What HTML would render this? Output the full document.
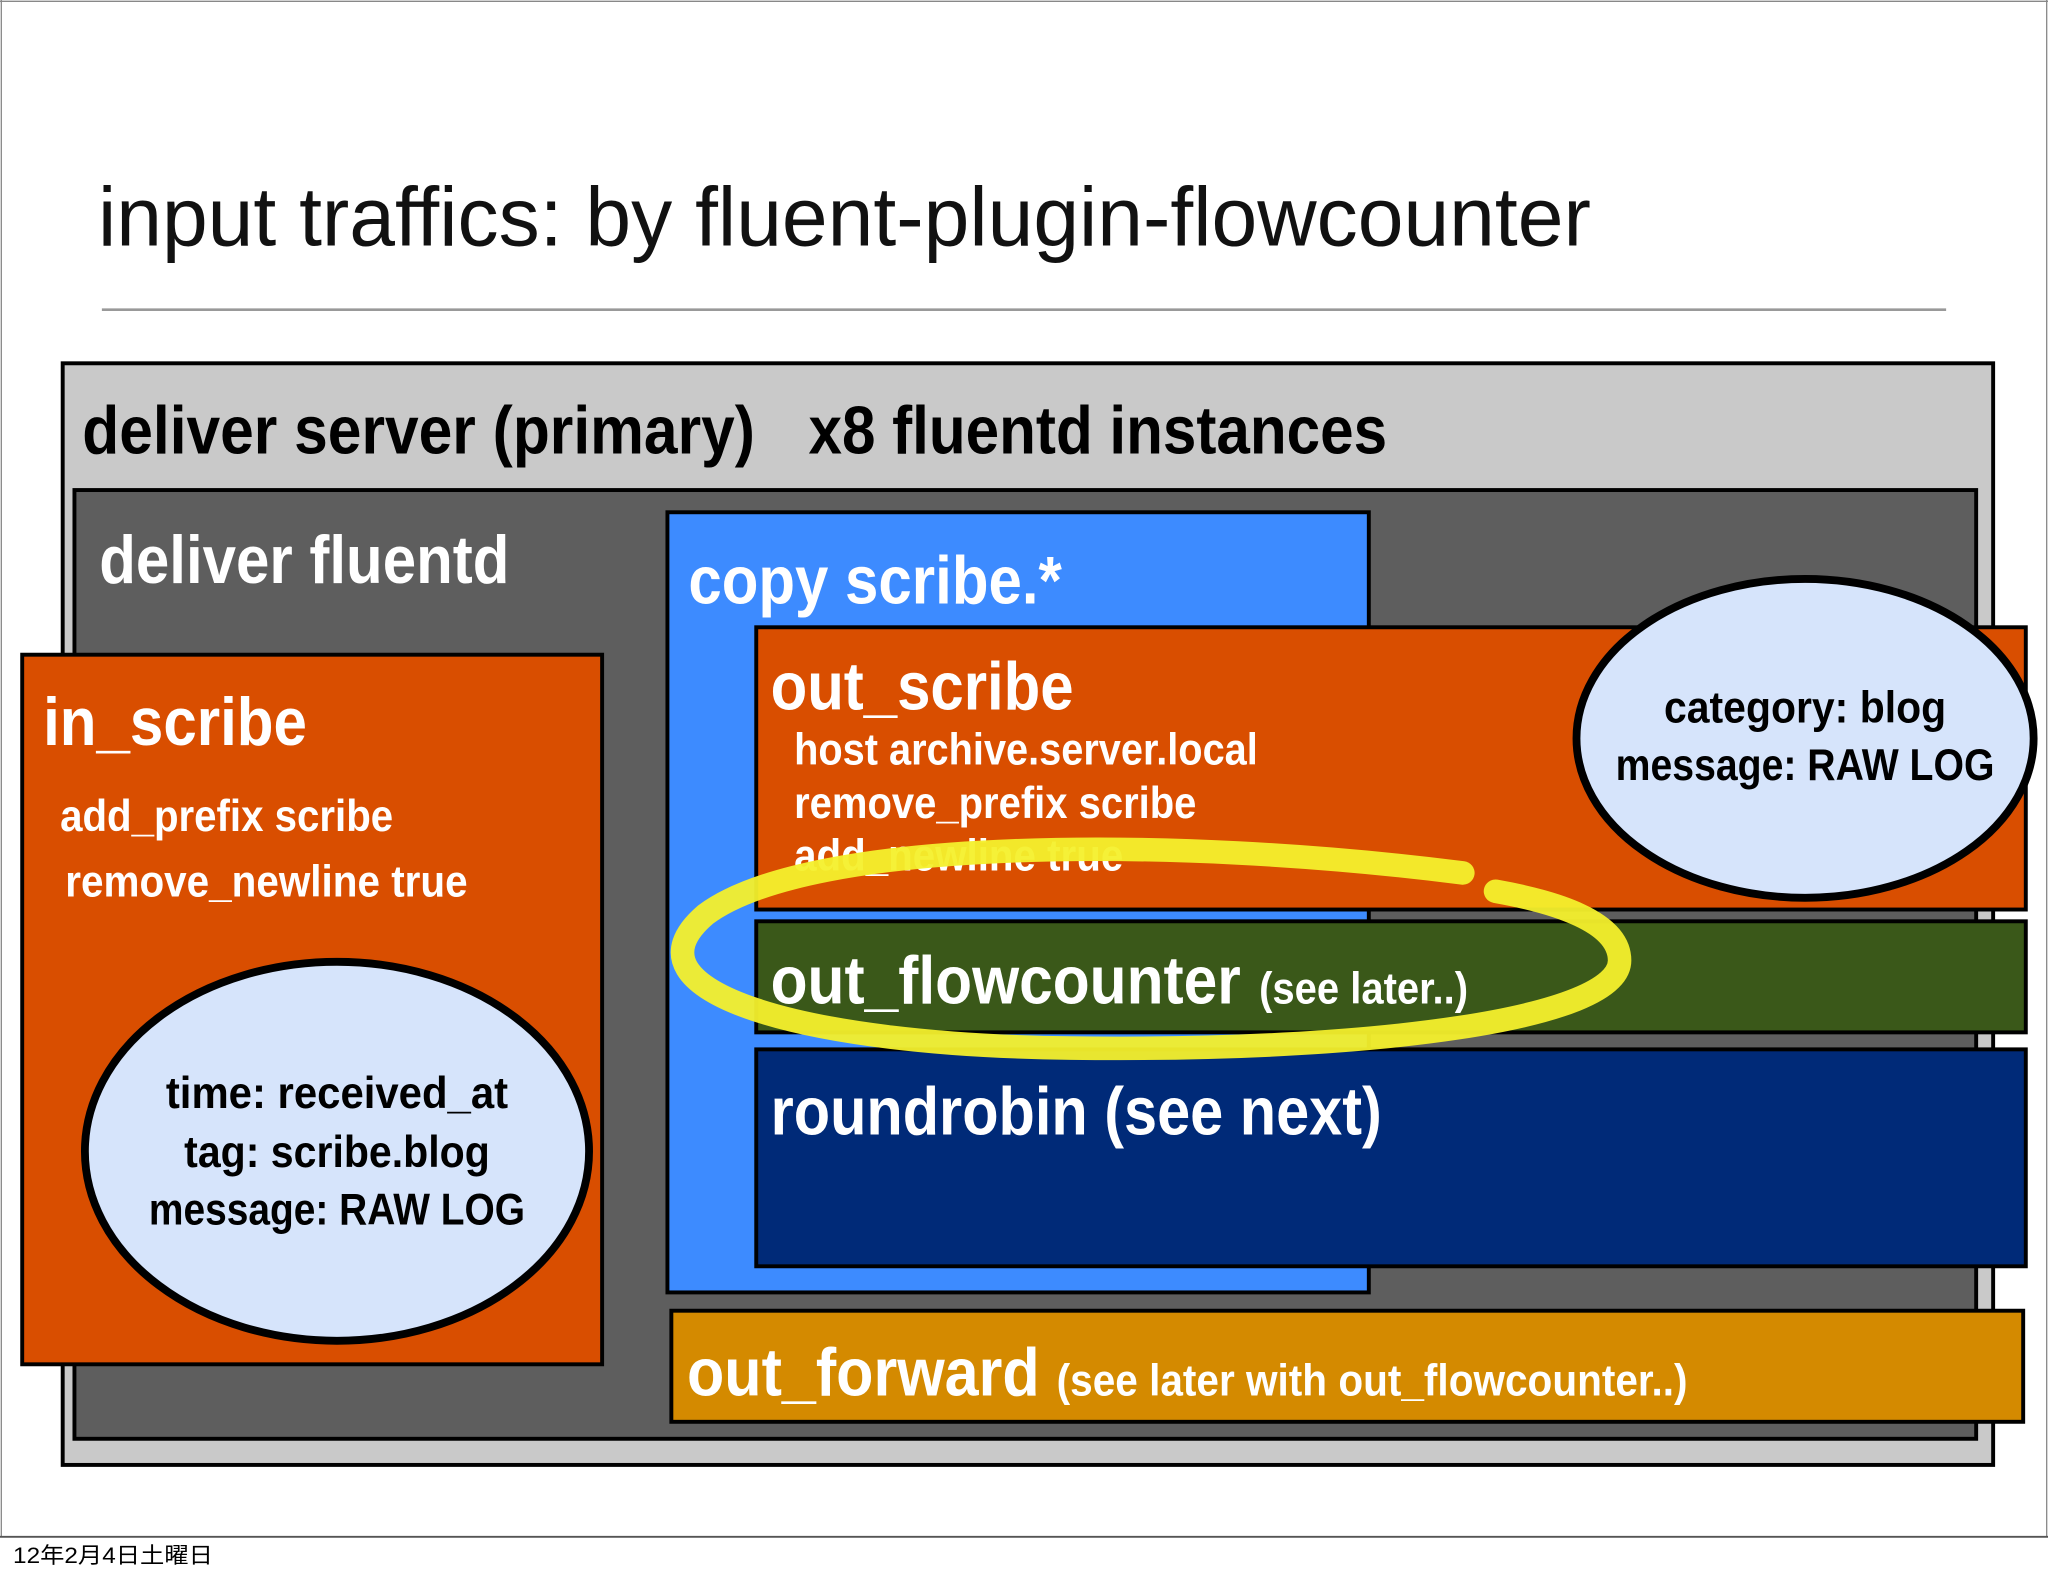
<!DOCTYPE html>
<html><head><meta charset="utf-8"><style>
html,body{margin:0;padding:0;background:#fff;}
svg{display:block;}
.c{font-family:"Liberation Sans Narrow","Liberation Sans",sans-serif;font-weight:bold;}
</style></head><body>
<svg width="2048" height="1576" viewBox="0 0 1568 1206" preserveAspectRatio="none" xmlns="http://www.w3.org/2000/svg">
<rect x="0" y="0" width="1568" height="1206" fill="#fff"/>
<line x1="0" y1="1" x2="1568" y2="1" stroke="#888" stroke-width="1"/>
<line x1="1" y1="0" x2="1" y2="1176" stroke="#888" stroke-width="1"/>
<line x1="1567" y1="0" x2="1567" y2="1176" stroke="#888" stroke-width="1"/>
<text x="75" y="188" font-family="Liberation Sans, sans-serif" font-size="64" fill="#111" textLength="1143" lengthAdjust="spacingAndGlyphs">input traffics: by fluent-plugin-flowcounter</text>
<line x1="78" y1="237" x2="1490" y2="237" stroke="#999" stroke-width="2"/>

<rect x="48" y="278" width="1478" height="843" fill="#c9c9c9" stroke="#000" stroke-width="3"/>
<text class="c" x="63" y="347" font-size="52" fill="#000" textLength="515" lengthAdjust="spacingAndGlyphs">deliver server (primary)</text>
<text class="c" x="619" y="347" font-size="52" fill="#000" textLength="443" lengthAdjust="spacingAndGlyphs">x8 fluentd instances</text>

<rect x="57" y="375" width="1456" height="726" fill="#5e5e5e" stroke="#000" stroke-width="3"/>
<text class="c" x="76" y="446" font-size="52" fill="#fff" textLength="314" lengthAdjust="spacingAndGlyphs">deliver fluentd</text>

<rect x="17" y="501" width="444" height="543" fill="#d94e00" stroke="#000" stroke-width="3"/>
<text class="c" x="33" y="570" font-size="52" fill="#fff" textLength="202" lengthAdjust="spacingAndGlyphs">in_scribe</text>
<text class="c" x="46" y="636" font-size="34" fill="#fff" textLength="255" lengthAdjust="spacingAndGlyphs">add_prefix scribe</text>
<text class="c" x="50" y="686" font-size="34" fill="#fff" textLength="308" lengthAdjust="spacingAndGlyphs">remove_newline true</text>
<ellipse cx="258" cy="881" rx="193" ry="145" fill="#d6e4fb" stroke="#000" stroke-width="6"/>
<text class="c" x="258" y="848" font-size="34" fill="#000" text-anchor="middle" textLength="262" lengthAdjust="spacingAndGlyphs">time: received_at</text>
<text class="c" x="258" y="893" font-size="34" fill="#000" text-anchor="middle" textLength="234" lengthAdjust="spacingAndGlyphs">tag: scribe.blog</text>
<text class="c" x="258" y="937" font-size="34" fill="#000" text-anchor="middle" textLength="288" lengthAdjust="spacingAndGlyphs">message: RAW LOG</text>

<rect x="511" y="392" width="537" height="597" fill="#3d8bff" stroke="#000" stroke-width="3"/>
<text class="c" x="527" y="462" font-size="52" fill="#fff" textLength="286" lengthAdjust="spacingAndGlyphs">copy scribe.*</text>

<rect x="579" y="480" width="972" height="216" fill="#d94e00" stroke="#000" stroke-width="3"/>
<text class="c" x="590" y="543" font-size="52" fill="#fff" textLength="232" lengthAdjust="spacingAndGlyphs">out_scribe</text>
<text class="c" x="608" y="585" font-size="34" fill="#fff" textLength="355" lengthAdjust="spacingAndGlyphs">host archive.server.local</text>
<text class="c" x="608" y="626" font-size="34" fill="#fff" textLength="308" lengthAdjust="spacingAndGlyphs">remove_prefix scribe</text>
<text class="c" x="608" y="666" font-size="34" fill="#fff" textLength="252" lengthAdjust="spacingAndGlyphs">add_newline true</text>
<ellipse cx="1382" cy="565" rx="175" ry="122" fill="#d6e4fb" stroke="#000" stroke-width="6"/>
<text class="c" x="1382" y="553" font-size="34" fill="#000" text-anchor="middle" textLength="216" lengthAdjust="spacingAndGlyphs">category: blog</text>
<text class="c" x="1382" y="597" font-size="34" fill="#000" text-anchor="middle" textLength="290" lengthAdjust="spacingAndGlyphs">message: RAW LOG</text>

<rect x="579" y="705" width="972" height="85" fill="#3a5819" stroke="#000" stroke-width="3"/>
<text class="c" x="590" y="768" font-size="52" fill="#fff" textLength="360" lengthAdjust="spacingAndGlyphs">out_flowcounter</text>
<text class="c" x="964" y="768" font-size="34" fill="#fff" textLength="160" lengthAdjust="spacingAndGlyphs">(see later..)</text>

<rect x="579" y="803" width="972" height="166" fill="#002a78" stroke="#000" stroke-width="3"/>
<text class="c" x="590" y="868" font-size="52" fill="#fff" textLength="468" lengthAdjust="spacingAndGlyphs">roundrobin (see next)</text>

<rect x="514" y="1003" width="1035" height="85" fill="#d48a00" stroke="#000" stroke-width="3"/>
<text class="c" x="526" y="1068" font-size="52" fill="#fff" textLength="270" lengthAdjust="spacingAndGlyphs">out_forward</text>
<text class="c" x="809" y="1068" font-size="34" fill="#fff" textLength="483" lengthAdjust="spacingAndGlyphs">(see later with out_flowcounter..)</text>

<path d="M1120 668 C 900 640, 620 640, 540 700 C 470 760, 620 800, 820 802 C 1050 805, 1240 780, 1240 735 C 1240 705, 1190 690, 1145 682" fill="none" stroke="#f4f02c" stroke-width="18" stroke-linecap="round" opacity="0.95"/>

<line x1="0" y1="1176" x2="1568" y2="1176" stroke="#555" stroke-width="1.5"/>
<text x="10" y="1196" font-family="Liberation Sans, Noto Sans CJK JP, sans-serif" font-size="17" fill="#000" textLength="153" lengthAdjust="spacingAndGlyphs">12年2月4日土曜日</text>
</svg>
</body></html>
